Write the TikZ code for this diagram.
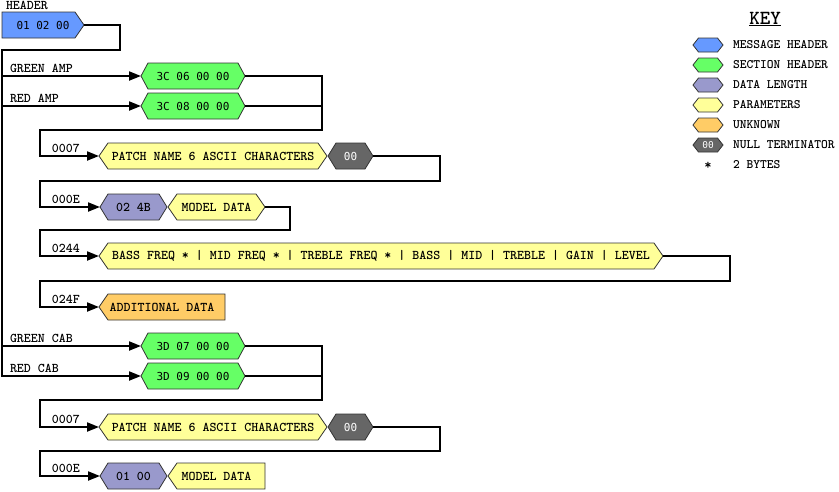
\documentclass[tikz,border=0pt]{standalone}
\usepackage{fontspec}
\usetikzlibrary{arrows.meta}
\newfontfamily\hexfont{DejaVu Sans Mono}
\newcommand{\lblfont}{\ttfamily\bfseries}
\definecolor{cblue}{HTML}{6699FF}
\definecolor{cgreen}{HTML}{66FF66}
\definecolor{cpurple}{HTML}{9999CC}
\definecolor{cyellow}{HTML}{FFFF99}
\definecolor{corange}{HTML}{FFCC66}
\definecolor{cgray}{HTML}{666666}
\tikzset{
  shapeline/.style={draw=black!80, line width=0.8pt, line join=miter},
  txt/.style={inner sep=0pt, outer sep=0pt, font=\lblfont\fontsize{13.3}{16}\selectfont},
  hx/.style={font=\hexfont\fontsize{11}{14}\selectfont},
  lbl/.style={inner sep=0pt, outer sep=0pt, anchor=base west, font=\lblfont\fontsize{13.3}{16}\selectfont},
  keylbl/.style={inner sep=0pt, outer sep=0pt, anchor=west, font=\lblfont\fontsize{12.9}{16}\selectfont},
  wire/.style={line width=2pt},
  arr/.style={wire, -{Triangle[length=12pt,width=9pt]}},
}
% #1 name, #2 xl, #3 xr, #4 yc, #5 left point, #6 right point, #7 fill, #8 node opts, #9 text
\newcommand{\shp}[9]{%
  \path[shapeline, fill=#7] ({#2+#5},{#4-13}) -- ({#3-#6},{#4-13}) -- (#3,#4) -- ({#3-#6},{#4+13}) -- ({#2+#5},{#4+13}) -- (#2,#4) -- cycle;
  \node[txt, minimum width={#3-#2}, minimum height=26, #8] (#1) at ({(#2+#3)/2},#4) {#9};}
% key hexagon: #1 name, #2 yc, #3 fill, #4 text
\newcommand{\keyhex}[4]{%
  \path[shapeline, fill=#3] (698.5,{#2-7}) -- (717.5,{#2-7}) -- (723,#2) -- (717.5,{#2+7}) -- (698.5,{#2+7}) -- (693,#2) -- cycle;
  \node[inner sep=0pt, minimum width=30, minimum height=14, text=white, font=\hexfont\fontsize{9.5}{10}\selectfont] (#1) at (708,#2) {#4};}
\begin{document}
\begin{tikzpicture}[x=1pt, y=-1pt]
\useasboundingbox[fill=white] (0,0) rectangle (839,491);

% ---- shapes ----
\shp{hdr}{2}{84}{25}{0}{9}{cblue}{hx}{01 02 00\hspace{16pt}}
\shp{ga1}{141}{245}{76}{7}{7}{cgreen}{hx}{3C 06 00 00}
\shp{ga2}{141}{245}{106}{7}{7}{cgreen}{hx}{3C 08 00 00}
\shp{pn1}{99}{327}{156}{9}{9}{cyellow}{}{PATCH NAME 6 ASCII CHARACTERS}
\shp{nt1}{328}{373}{156}{8}{8}{cgray}{hx,text=white}{00}
\shp{dl1}{100}{167}{207}{8}{8}{cpurple}{}{02 4B}
\shp{md1}{168}{265}{207}{9}{9}{cyellow}{}{MODEL DATA}
\shp{pr1}{99}{663}{256}{9}{9}{cyellow}{}{BASS FREQ * | MID FREQ * | TREBLE FREQ * | BASS | MID | TREBLE | GAIN | LEVEL}
\shp{un1}{99}{225}{307}{9}{0}{corange}{}{ADDITIONAL DATA}
\shp{gc1}{141}{245}{346}{7}{7}{cgreen}{hx}{3D 07 00 00}
\shp{gc2}{141}{245}{376}{7}{7}{cgreen}{hx}{3D 09 00 00}
\shp{pn2}{99}{327}{427}{9}{9}{cyellow}{}{PATCH NAME 6 ASCII CHARACTERS}
\shp{nt2}{328}{373}{427}{8}{8}{cgray}{hx,text=white}{00}
\shp{dl2}{100}{167}{476}{8}{8}{cpurple}{}{01 00}
\shp{md2}{168}{265}{476}{9}{0}{cyellow}{}{MODEL DATA}

% ---- labels ----
\node[lbl] (tHdr) at (6,9.8) {HEADER};
\node[lbl] (tGA) at (10,72.5) {GREEN AMP};
\node[lbl] (tRA) at (10,102.5) {RED AMP};
\node[lbl] (tL1) at (52,152.5) {0007};
\node[lbl] (tL2) at (52,203.5) {000E};
\node[lbl] (tL3) at (52,252.5) {0244};
\node[lbl] (tL4) at (52,303.5) {024F};
\node[lbl] (tGC) at (10,342.5) {GREEN CAB};
\node[lbl] (tRC) at (10,372.5) {RED CAB};
\node[lbl] (tL5) at (52,423.5) {0007};
\node[lbl] (tL6) at (52,472.5) {000E};

% ---- connectors ----
\draw[arr] (hdr.east) -| (120,50) -| (1.5,76) -- (ga1.west);
\draw[arr] (1.5,76) |- (ga2.west);
\draw[arr] (1.5,106) |- (gc1.west);
\draw[arr] (1.5,346) |- (gc2.west);
\draw[wire] (ga2.east) -- (322,106);
\draw[arr] (ga1.east) -| (322,130) -| (40,156) -- (pn1.west);
\draw[arr] (nt1.east) -| (440,181) -| (40,207) -- (dl1.west);
\draw[arr] (md1.east) -| (290,230) -| (40,256) -- (pr1.west);
\draw[arr] (pr1.east) -| (730,281) -| (40,307) -- (un1.west);
\draw[wire] (gc2.east) -- (322,376);
\draw[arr] (gc1.east) -| (322,400) -| (40,427) -- (pn2.west);
\draw[arr] (nt2.east) -| (440,451) -| (40,476) -- (dl2.west);

% ---- key ----
\node[inner sep=0pt, font=\lblfont\fontsize{20}{24}\selectfont] (key) at (765,19) {\underline{KEY}};
\keyhex{k1}{45}{cblue}{}
\keyhex{k2}{65}{cgreen}{}
\keyhex{k3}{85}{cpurple}{}
\keyhex{k4}{105}{cyellow}{}
\keyhex{k5}{125}{corange}{}
\keyhex{k6}{145}{cgray}{00}
\node[inner sep=0pt, font=\lblfont\fontsize{14}{16}\selectfont] (k7) at (708,166) {*};
\node[keylbl] (kt1) at (733,45) {MESSAGE HEADER};
\node[keylbl] (kt2) at (733,65) {SECTION HEADER};
\node[keylbl] (kt3) at (733,85) {DATA LENGTH};
\node[keylbl] (kt4) at (733,105) {PARAMETERS};
\node[keylbl] (kt5) at (733,125) {UNKNOWN};
\node[keylbl] (kt6) at (733,145) {NULL TERMINATOR};
\node[keylbl] (kt7) at (733,165) {2 BYTES};
\end{tikzpicture}
\end{document}
